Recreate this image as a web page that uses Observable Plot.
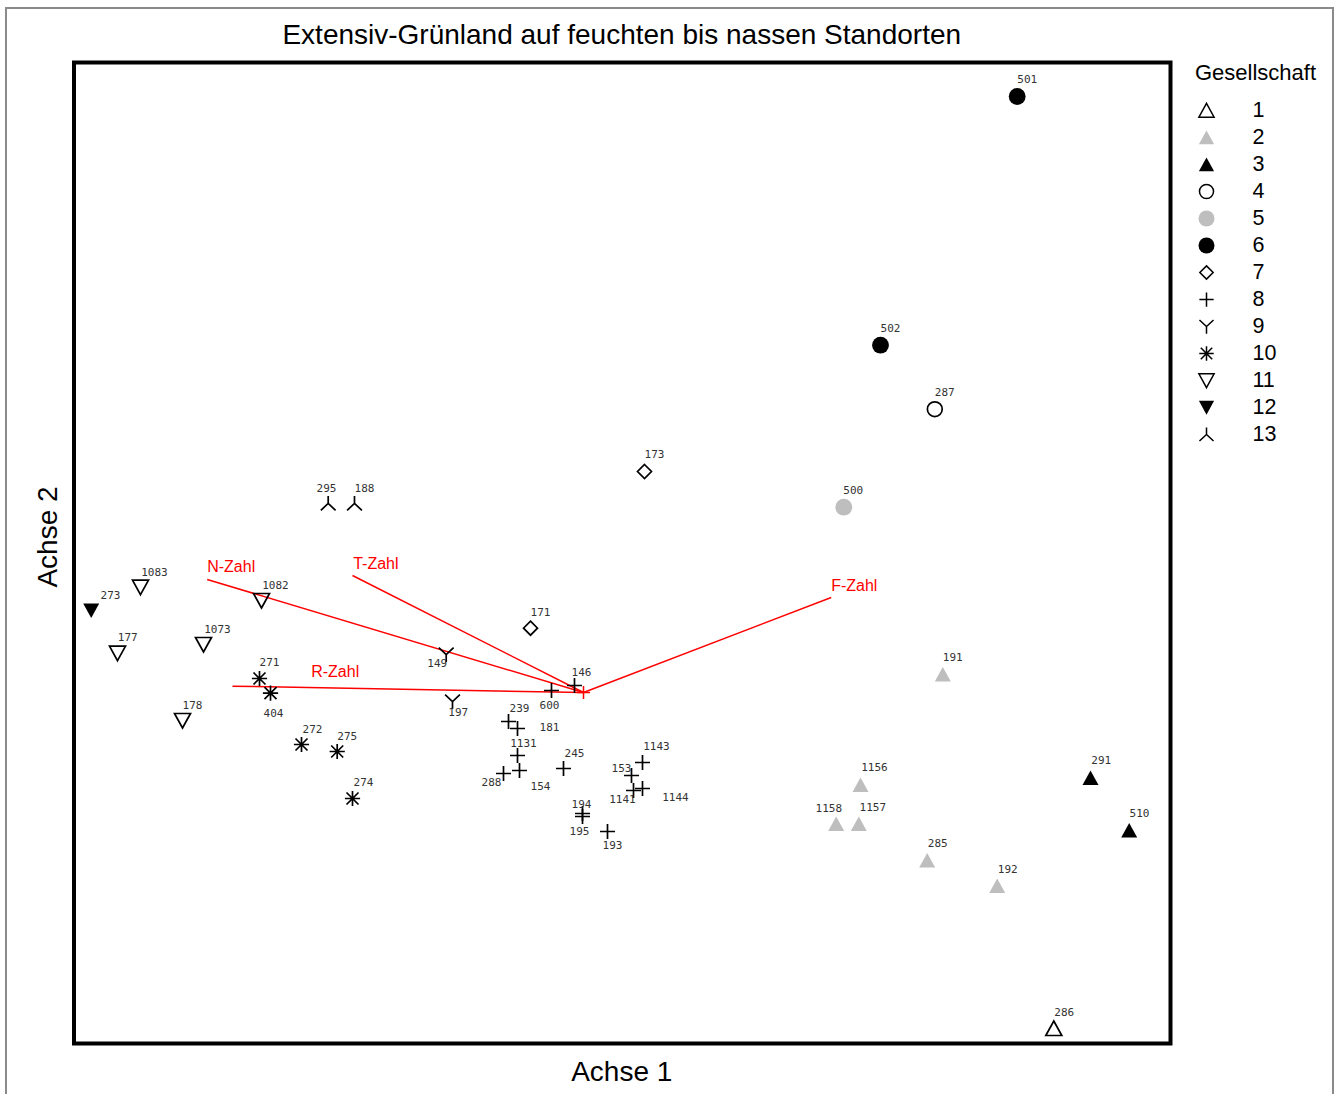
<!DOCTYPE html>
<html>
<head>
<meta charset="utf-8">
<script src="https://cdn.jsdelivr.net/npm/d3@7"></script>
<script src="https://cdn.jsdelivr.net/npm/@observablehq/plot@0.6"></script>
<style>
  body { margin: 0; background: #fff; }
  #wrap { position: relative; width: 1340px; height: 1094px; overflow: hidden; font-family: "Liberation Sans", Arial, sans-serif; color: #000; }
  #border { position: absolute; left: 5px; top: 7px; width: 1329px; height: 1200px; border: 2px solid #8a8a8a; box-sizing: border-box; pointer-events: none; }
  .abs { position: absolute; white-space: nowrap; }
  #title { left: 0; width: 1243.5px; text-align: center; font-size: 28px; line-height: 28px; top: 20.5px; }
  #xlab { left: 0; width: 1243.5px; text-align: center; font-size: 28px; line-height: 28px; top: 1057.5px; }
  #ylab { left: -102px; width: 300px; text-align: center; font-size: 28px; line-height: 28px; top: 523px; transform: rotate(-90deg); transform-origin: 150px 14px; }
  #legtitle { left: 1195px; top: 62px; font-size: 22px; line-height: 22px; }
  #main { position: absolute; left: 0; top: 0; }
  #legend { position: absolute; left: 1180px; top: 0; }
</style>
</head>
<body>
<div id="wrap">
  <div id="main"></div>
  <div id="legend"></div>
  <div id="title" class="abs"></div>
  <div id="xlab" class="abs"></div>
  <div id="ylab" class="abs"></div>
  <div id="legtitle" class="abs"></div>
  <div id="border"></div>
</div>
<script>
// ---------- DATA ----------
const titleText = "Extensiv-Grünland auf feuchten bis nassen Standorten";
const xAxisLabel = "Achse 1";
const yAxisLabel = "Achse 2";
const legendTitle = "Gesellschaft";

const groups = [1, 2, 3, 4, 5, 6, 7, 8, 9, 10, 11, 12, 13];
const groupLabels = ["1", "2", "3", "4", "5", "6", "7", "8", "9", "10", "11", "12", "13"];

// Relevé numbers, their community (Gesellschaft) and ordination scores
const releveIds = ["286","191","1156","1158","1157","285","192","291","510","287","500","501","502","173","171",
  "146","600","239","181","1131","288","154","245","1143","153","1141","1144","194","195","193",
  "149","197","271","404","272","275","274","1083","1082","177","1073","178","273","295","188"];
const releveGroup = [1,2,2,2,2,2,2,3,3,4,5,6,6,7,7,
  8,8,8,8,8,8,8,8,8,8,8,8,8,8,8,
  9,9,10,10,10,10,10,11,11,11,11,11,12,13,13];
const axis1 = [9.798,8.688,7.865,7.622,7.848,8.532,9.232,10.165,10.552,8.608,7.698,9.432,8.065,5.705,4.565,
  5.005,4.775,4.345,4.435,4.435,4.295,4.455,4.895,5.685,5.575,5.595,5.685,5.085,5.085,5.335,
  3.722,3.785,1.855,1.965,2.275,2.632,2.785,0.665,1.875,0.435,1.295,1.085,0.172,2.542,2.805];
const axis2 = [0.15,3.69,2.585,2.195,2.195,1.83,1.575,2.655,2.13,6.343,5.363,9.47,6.983,5.72,4.153,
  3.58,3.53,3.22,3.15,2.88,2.70,2.73,2.75,2.81,2.68,2.53,2.55,2.30,2.27,2.12,
  3.89,3.42,3.65,3.503,2.99,2.92,2.45,4.563,4.43,3.903,3.99,3.23,4.33,5.40,5.40];
// where each relevé number label sits (in axis units)
const labelAxis1 = [9.902,8.788,8.005,7.548,7.988,8.638,9.338,10.272,10.655,8.708,7.792,9.532,8.165,5.805,4.665,
  5.075,4.755,4.455,4.755,4.495,4.175,4.665,5.005,5.825,5.475,5.485,6.015,5.075,5.055,5.385,
  3.632,3.842,1.955,1.995,2.385,2.732,2.895,0.805,2.015,0.538,1.435,1.185,0.365,2.525,2.905];
const labelAxis2 = [0.313,3.857,2.76,2.347,2.363,1.997,1.737,2.83,2.297,6.507,5.53,9.637,7.147,5.887,4.307,
  3.71,3.38,3.35,3.16,3.00,2.61,2.57,2.90,2.97,2.75,2.44,2.46,2.39,2.12,1.98,
  3.803,3.313,3.81,3.30,3.14,3.073,2.61,4.713,4.58,4.06,4.14,3.38,4.48,5.55,5.553];

// Ellenberg indicator vectors
const vectorNames = ["N-Zahl", "T-Zahl", "R-Zahl", "F-Zahl"];
const vectorOrigin = [5.095, 3.51];
const vectorAxis1 = [1.332, 2.785, 1.585, 7.572];
const vectorAxis2 = [4.64, 4.68, 3.573, 4.46];
const vectorLabelAxis1 = [1.332, 2.792, 2.372, 7.572];
const vectorLabelAxis2 = [4.763, 4.797, 3.713, 4.58];

const xDomain = [0, 10.965];
const yDomain = [0, 9.81];

// ---------- SYMBOLS / STYLES ----------
const sym = fn => ({ draw(c, size) { const k = Math.sqrt(size / Math.PI) / 8; fn(c, k); } });
const triUp = sym((c, k) => { c.moveTo(0, -7.5 * k); c.lineTo(8 * k, 7 * k); c.lineTo(-8 * k, 7 * k); c.closePath(); });
const triDown = sym((c, k) => { c.moveTo(0, 7.5 * k); c.lineTo(8 * k, -7 * k); c.lineTo(-8 * k, -7 * k); c.closePath(); });
const circFill = sym((c, k) => { c.moveTo(8.4 * k, 0); c.arc(0, 0, 8.4 * k, 0, 2 * Math.PI); });
const circOpen = sym((c, k) => { c.moveTo(7.4 * k, 0); c.arc(0, 0, 7.4 * k, 0, 2 * Math.PI); });
const diamond = sym((c, k) => { c.moveTo(0, -7 * k); c.lineTo(7 * k, 0); c.lineTo(0, 7 * k); c.lineTo(-7 * k, 0); c.closePath(); });
const plus = sym((c, k) => { c.moveTo(-7.5 * k, 0); c.lineTo(7.5 * k, 0); c.moveTo(0, -7.5 * k); c.lineTo(0, 7.5 * k); });
const star8 = sym((c, k) => {
  c.moveTo(-7.6 * k, 0); c.lineTo(7.6 * k, 0); c.moveTo(0, -7.6 * k); c.lineTo(0, 7.6 * k);
  c.moveTo(-6 * k, -6 * k); c.lineTo(6 * k, 6 * k); c.moveTo(-6 * k, 6 * k); c.lineTo(6 * k, -6 * k);
});
const wyeUp = sym((c, k) => { c.moveTo(-7.4 * k, -6.9 * k); c.lineTo(0, 0); c.lineTo(7.4 * k, -6.9 * k); c.moveTo(0, 0); c.lineTo(0, 7.5 * k); });
const wyeDown = sym((c, k) => { c.moveTo(-7.4 * k, 6.9 * k); c.lineTo(0, 0); c.lineTo(7.4 * k, 6.9 * k); c.moveTo(0, 0); c.lineTo(0, -7.5 * k); });

const GRAY = "#bebebe";
const styles = {
  1: {symbol: triUp, fill: "none", stroke: "#000"},
  2: {symbol: triUp, fill: GRAY, stroke: "none"},
  3: {symbol: triUp, fill: "#000", stroke: "none"},
  4: {symbol: circOpen, fill: "none", stroke: "#000"},
  5: {symbol: circFill, fill: GRAY, stroke: "none"},
  6: {symbol: circFill, fill: "#000", stroke: "none"},
  7: {symbol: diamond, fill: "none", stroke: "#000"},
  8: {symbol: plus, fill: "none", stroke: "#000"},
  9: {symbol: wyeUp, fill: "none", stroke: "#000"},
  10: {symbol: star8, fill: "none", stroke: "#000"},
  11: {symbol: triDown, fill: "none", stroke: "#000"},
  12: {symbol: triDown, fill: "#000", stroke: "none"},
  13: {symbol: wyeDown, fill: "none", stroke: "#000"}
};

// ---------- TABLES ----------
const releves = releveIds.map((id, i) => ({
  id, g: releveGroup[i], a1: axis1[i], a2: axis2[i], la1: labelAxis1[i], la2: labelAxis2[i]
}));
const vectors = vectorNames.map((name, i) => ({
  name, x0: vectorOrigin[0], y0: vectorOrigin[1], x: vectorAxis1[i], y: vectorAxis2[i],
  lx: vectorLabelAxis1[i], ly: vectorLabelAxis2[i]
}));
const legendRows = groups.map((g, i) => ({g, label: groupLabels[i]}));

// ---------- TEXT ----------
document.getElementById("title").textContent = titleText;
document.getElementById("xlab").textContent = xAxisLabel;
document.getElementById("ylab").textContent = yAxisLabel;
document.getElementById("legtitle").textContent = legendTitle;

const symbolScale = {domain: groups, range: groups.map(g => styles[g].symbol)};

// ---------- MAIN CHART ----------
const main = Plot.plot({
  width: 1180,
  height: 1094,
  marginLeft: 73.5,
  marginRight: 10,
  marginTop: 62,
  marginBottom: 51,
  x: {domain: xDomain, axis: null},
  y: {domain: yDomain, axis: null},
  symbol: symbolScale,
  color: {type: "identity"},
  style: {background: "transparent", overflow: "visible"},
  marks: [
    Plot.link(vectors, {x1: "x0", y1: "y0", x2: "x", y2: "y", stroke: "#ff0000", strokeWidth: 1.5}),
    Plot.dot([vectorOrigin], {x: d => d[0], y: d => d[1], symbol: plus, r: 7, stroke: "#ff0000", fill: "none", strokeWidth: 1.5}),
    Plot.text(vectors, {x: "lx", y: "ly", text: "name", textAnchor: "start", fill: "#ff0000",
      fontSize: 16, fontFamily: "Liberation Sans, Arial, sans-serif"}),
    Plot.dot(releves, {x: "a1", y: "a2", symbol: "g", r: 8,
      fill: d => styles[d.g].fill, stroke: d => styles[d.g].stroke, strokeWidth: 1.7}),
    Plot.text(releves, {x: "la1", y: "la2", text: "id", fill: "#333",
      fontSize: 11, fontFamily: "DejaVu Sans Mono, monospace"}),
    Plot.frame({stroke: "#000", strokeWidth: 4})
  ]
});
document.getElementById("main").appendChild(main);

// ---------- LEGEND ----------
const legend = Plot.plot({
  width: 155,
  height: 460,
  margin: 0,
  x: {type: "linear", domain: [0, 1], range: [26, 72], axis: null},
  y: {type: "point", domain: groups, range: [110, 434], padding: 0, axis: null},
  symbol: symbolScale,
  color: {type: "identity"},
  style: {background: "transparent", overflow: "visible"},
  marks: [
    Plot.dot(legendRows, {x: () => 0, y: "g", symbol: "g", r: 7.6,
      fill: d => styles[d.g].fill, stroke: d => styles[d.g].stroke, strokeWidth: 1.5}),
    Plot.text(legendRows, {x: () => 1, y: "g", text: "label", textAnchor: "start", fill: "#000",
      fontSize: 21.5, fontFamily: "Liberation Sans, Arial, sans-serif"})
  ]
});
document.getElementById("legend").appendChild(legend);
</script>
</body>
</html>
